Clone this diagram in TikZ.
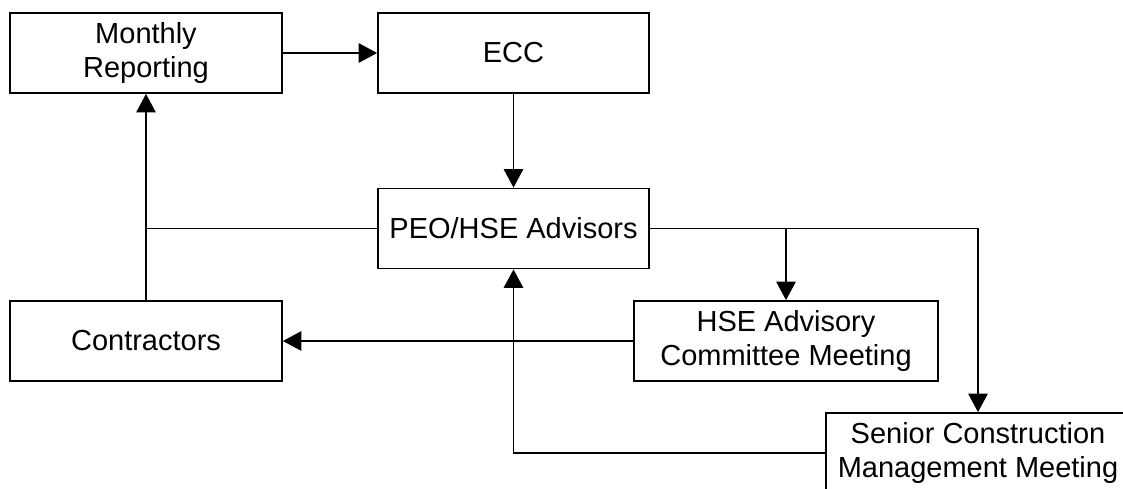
\documentclass[tikz,border=0pt]{standalone}
\usepackage{fontspec}
\setmainfont{Liberation Sans}
\usetikzlibrary{arrows.meta}
\begin{document}
\begin{tikzpicture}
[x=0.02cm,y=-0.02cm,
  boxdecorate/.style={shape=rectangle,draw,line width=1pt,minimum height=1.6cm,
    inner sep=0pt,align=center,font=\fontsize{16.5}{19.8}\selectfont},%
  linedecorate/.style={-,line width=1pt},%
  arrowdecorate/.style={-{Triangle[length=10.5pt,width=11pt]},line width=1pt}]
\clip (0,0) rectangle (1123,488);
\fill[white] (0,0) rectangle (1123,488);
%% boxes
\foreach \nodename/\x/\y/\w/\txt in {monthly/146/53/5.44cm/{Monthly\\Reporting},
    ecc/513.5/53/5.42cm/ECC, peo/513.5/228.5/5.42cm/{PEO/HSE Advisors},
    contractors/146/341/5.44cm/Contractors,
    hseadv/786/341/6.08cm/{HSE Advisory\\Committee Meeting},
    senior/978/453/6.08cm/{Senior Construction\\Management Meeting}} {
  \node (\nodename) at (\x,\y) [boxdecorate,minimum width=\w] {\txt};
}
%% connectors
\draw[arrowdecorate] (monthly) -- (ecc);
\draw[arrowdecorate] (ecc) -- (peo);
\draw[arrowdecorate] (contractors.north) -- (monthly.south);
\draw[linedecorate] (peo.west) -- (peo.west -| contractors.north);
\draw[arrowdecorate] (peo.east) -| (senior.north);
\draw[arrowdecorate] (peo.east -| hseadv.north) -- (hseadv.north);
\draw[arrowdecorate] (hseadv.west) -- (contractors.east);
\draw[arrowdecorate] (senior.west) -| (peo.south);
\end{tikzpicture}
\end{document}
